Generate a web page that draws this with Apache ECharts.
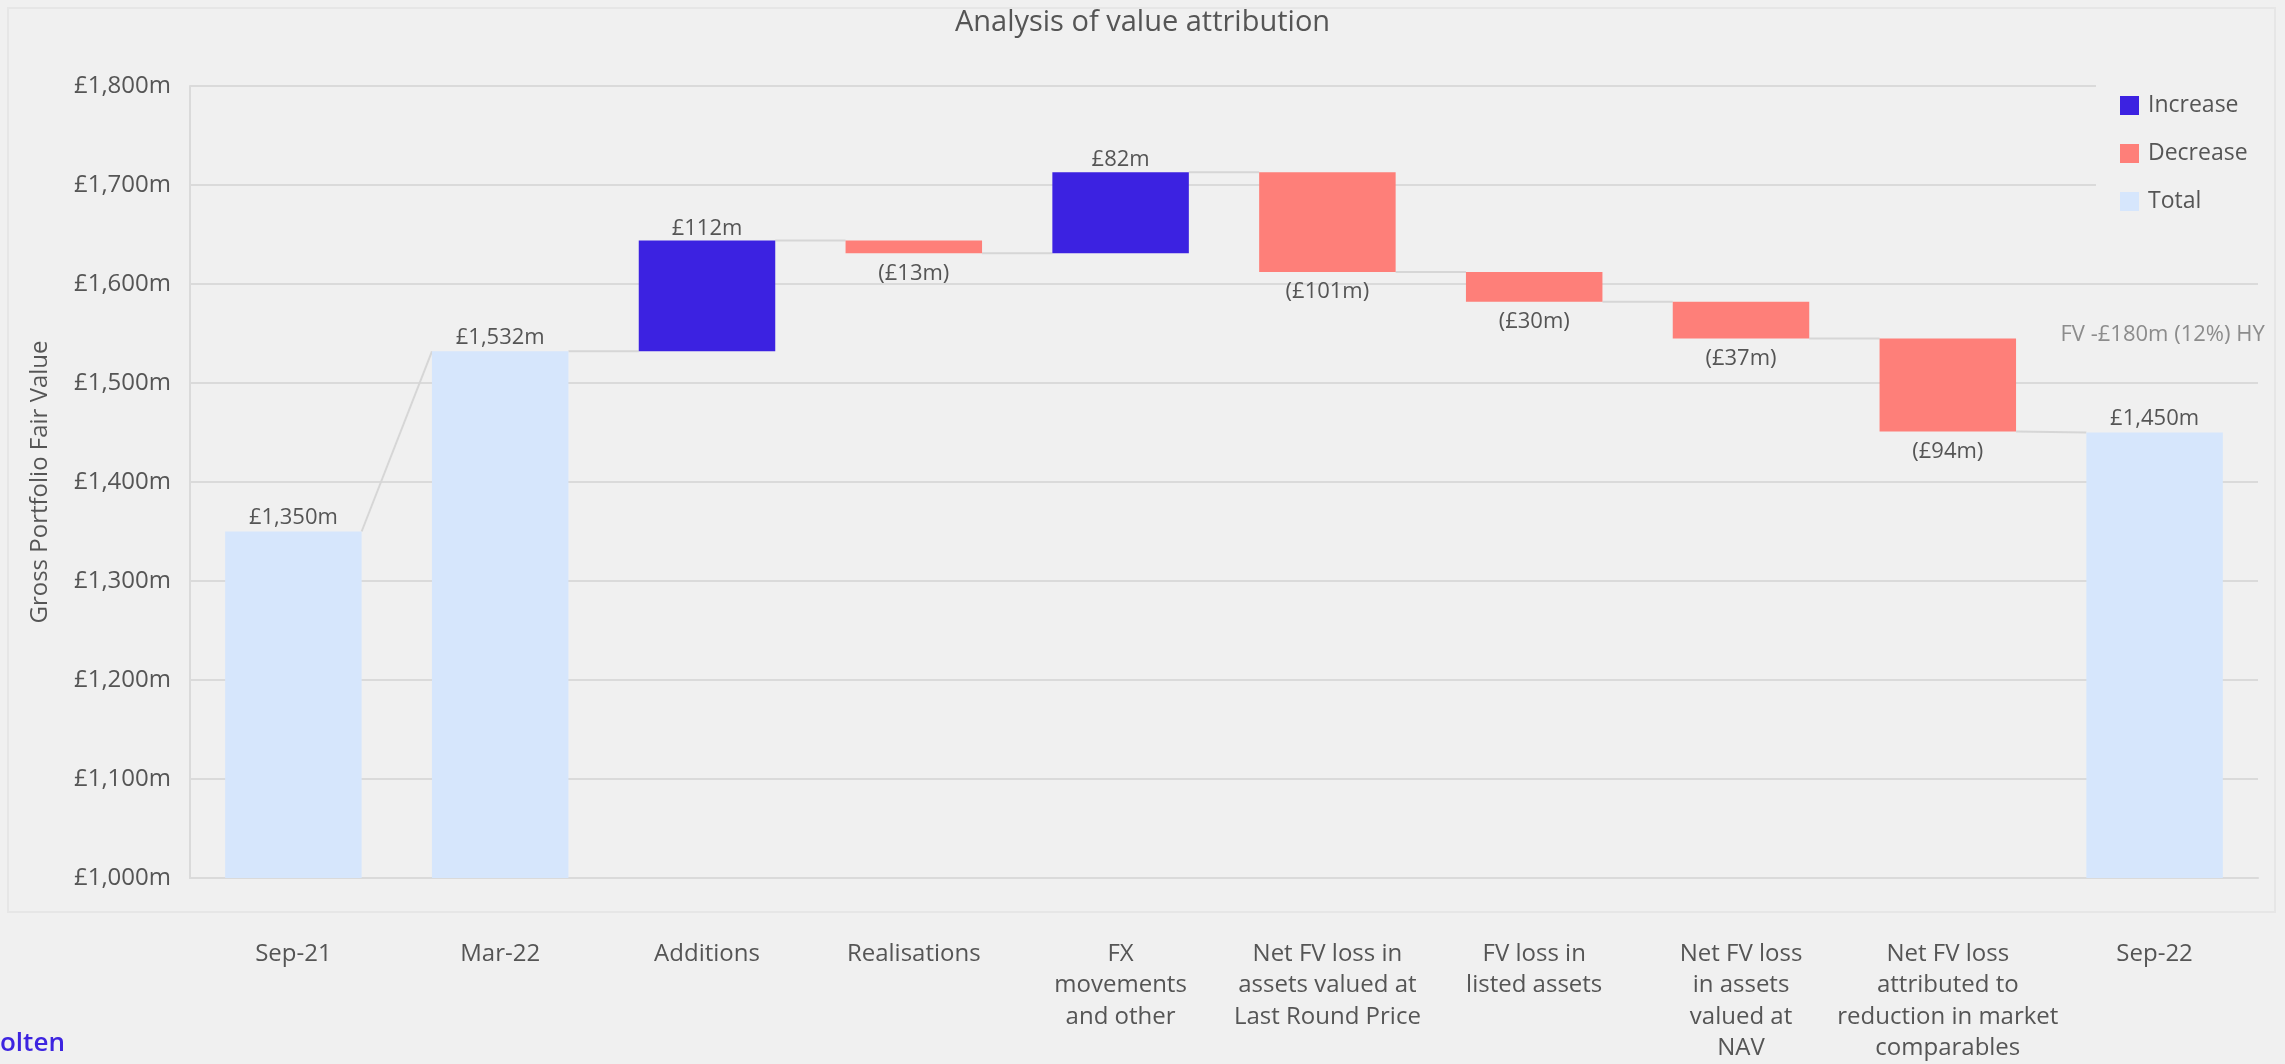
<!DOCTYPE html>
<html>
<head>
<meta charset="utf-8">
<script src="https://cdn.jsdelivr.net/npm/echarts@6/dist/echarts.min.js"></script>
<style>
  html, body { margin: 0; padding: 0; background: #f0f0f0; }
  #chart { width: 2285px; height: 1064px; }
</style>
</head>
<body>
<div id="chart"></div>
<script>
// Waterfall: opening/closing portfolio values and the movements between them (£m)
const categories = [
  'Sep-21',
  'Mar-22',
  'Additions',
  'Realisations',
  'FX\nmovements\nand other',
  'Net FV loss in\nassets valued at\nLast Round Price',
  'FV loss in\nlisted assets',
  'Net FV loss\nin assets\nvalued at\nNAV',
  'Net FV loss\nattributed to\nreduction in market\ncomparables',
  'Sep-22'
];
const totals  = [1350, 1532, null, null, null, null, null, null, null, 1450];
const changes = [null, null, 112, -13, 82, -101, -30, -37, -94, null];
const yTickValues = [1000, 1100, 1200, 1300, 1400, 1500, 1600, 1700, 1800];
const legendNames = ['Increase', 'Decrease', 'Total'];
const noteText = 'FV -£180m (12%) HY';

const COLORS = { Increase: '#3c22e1', Decrease: '#fe7f79', Total: '#d6e6fc' };
const TEXT = '#555555';
const FONT = '"Open Sans", "Noto Sans", sans-serif';

// Build stacked-bar pieces and the running levels used by connector lines
const base = [], inc = [], dec = [], tot = [], startLevel = [], endLevel = [];
let running = null;
categories.forEach((c, i) => {
  if (totals[i] != null) {
    base.push(0); tot.push(totals[i]); inc.push('-'); dec.push('-');
    startLevel.push(totals[i]); endLevel.push(totals[i]);
    running = totals[i];
  } else {
    const d = changes[i];
    const next = running + d;
    base.push(Math.min(running, next));
    inc.push(d > 0 ? d : '-');
    dec.push(d < 0 ? -d : '-');
    tot.push('-');
    startLevel.push(running); endLevel.push(next);
    running = next;
  }
});
const connectors = [];
for (let i = 0; i < categories.length - 1; i++) {
  connectors.push([i, endLevel[i], startLevel[i + 1]]);
}

const money = v => '£' + Number(v).toLocaleString('en-GB') + 'm';
const BAR_FRACTION = 0.66;

const chart = echarts.init(document.getElementById('chart'), null, { renderer: 'canvas' });
chart.setOption({
  backgroundColor: '#f0f0f0',
  animation: false,
  textStyle: { fontFamily: FONT },
  title: {
    text: 'Analysis of value attribution',
    left: 'center',
    top: 3,
    textStyle: { fontFamily: FONT, fontSize: 29, fontWeight: 'normal', color: TEXT }
  },
  graphic: [
    {
      type: 'rect', silent: true, z: -1,
      shape: { x: 8, y: 8, width: 2267, height: 904 },
      style: { fill: 'none', stroke: '#e6e6e6', lineWidth: 2 }
    },
    {
      type: 'text', left: 0, top: 1031,
      style: { text: 'olten', fill: '#3d24e0', font: '600 26px ' + FONT }
    }
  ],
  legend: {
    data: legendNames,
    orient: 'vertical',
    left: 2096,
    top: 84,
    padding: [10, 20, 10, 24],
    backgroundColor: '#f0f0f0',
    icon: 'rect',
    itemWidth: 19,
    itemHeight: 19,
    itemGap: 25,
    z: 10,
    textStyle: { fontFamily: FONT, fontSize: 23, color: TEXT, lineHeight: 22, padding: [0, 0, 0, 4] }
  },
  grid: { left: 190, right: 27, top: 86, bottom: 183, containLabel: false },
  xAxis: {
    type: 'category',
    data: categories,
    axisLine: { show: true, lineStyle: { color: '#dadada', width: 2 } },
    axisTick: { show: false },
    axisLabel: {
      interval: 0, margin: 60, color: TEXT, fontFamily: FONT, fontSize: 24, lineHeight: 31.5
    },
    splitLine: { show: false }
  },
  yAxis: {
    type: 'value',
    min: yTickValues[0],
    max: yTickValues[yTickValues.length - 1],
    interval: yTickValues[1] - yTickValues[0],
    name: 'Gross Portfolio Fair Value',
    nameLocation: 'middle',
    nameRotate: 90,
    nameGap: 138,
    nameTextStyle: { fontFamily: FONT, fontSize: 24, color: TEXT },
    axisLine: { show: true, lineStyle: { color: '#dadada', width: 2 } },
    axisTick: { show: false },
    axisLabel: { formatter: money, margin: 19, color: TEXT, fontFamily: FONT, fontSize: 24 },
    splitLine: { lineStyle: { color: '#dadada', width: 2 } }
  },
  series: [
    {
      name: 'base', type: 'bar', stack: 'w', barWidth: (BAR_FRACTION * 100) + '%',
      itemStyle: { color: 'transparent' }, silent: true, data: base
    },
    {
      name: 'Increase', type: 'bar', stack: 'w', barWidth: (BAR_FRACTION * 100) + '%',
      itemStyle: { color: COLORS.Increase }, data: inc,
      label: { show: true, position: 'top', distance: 1, formatter: p => money(p.value),
               color: TEXT, fontFamily: FONT, fontSize: 22 }
    },
    {
      name: 'Decrease', type: 'bar', stack: 'w', barWidth: (BAR_FRACTION * 100) + '%',
      itemStyle: { color: COLORS.Decrease }, data: dec,
      label: { show: true, position: 'bottom', distance: 9, formatter: p => '(' + money(p.value) + ')',
               color: TEXT, fontFamily: FONT, fontSize: 22 }
    },
    {
      name: 'Total', type: 'bar', stack: 'w', barWidth: (BAR_FRACTION * 100) + '%',
      itemStyle: { color: COLORS.Total }, data: tot,
      label: { show: true, position: 'top', distance: 3, formatter: p => money(p.value),
               color: TEXT, fontFamily: FONT, fontSize: 22 },
      markPoint: {
        symbol: 'rect', symbolSize: 0, silent: true,
        label: { show: true, position: 'inside', offset: [8, 0], formatter: noteText,
                 color: '#8c8c8c', fontFamily: FONT, fontSize: 22 },
        data: [{ coord: [categories.length - 1, 1549] }]
      }
    },
    {
      name: 'connectors', type: 'custom', silent: true, z: 1,
      encode: { x: 0, y: [1, 2] },
      data: connectors,
      renderItem: (params, api) => {
        const i = api.value(0);
        const p1 = api.coord([i, api.value(1)]);
        const p2 = api.coord([i + 1, api.value(2)]);
        const half = api.size([1, 0])[0] * BAR_FRACTION / 2;
        return {
          type: 'line',
          shape: { x1: p1[0] + half, y1: p1[1], x2: p2[0] - half, y2: p2[1] },
          style: { stroke: '#d6d6d6', lineWidth: 2 }
        };
      }
    }
  ]
});
</script>
</body>
</html>
